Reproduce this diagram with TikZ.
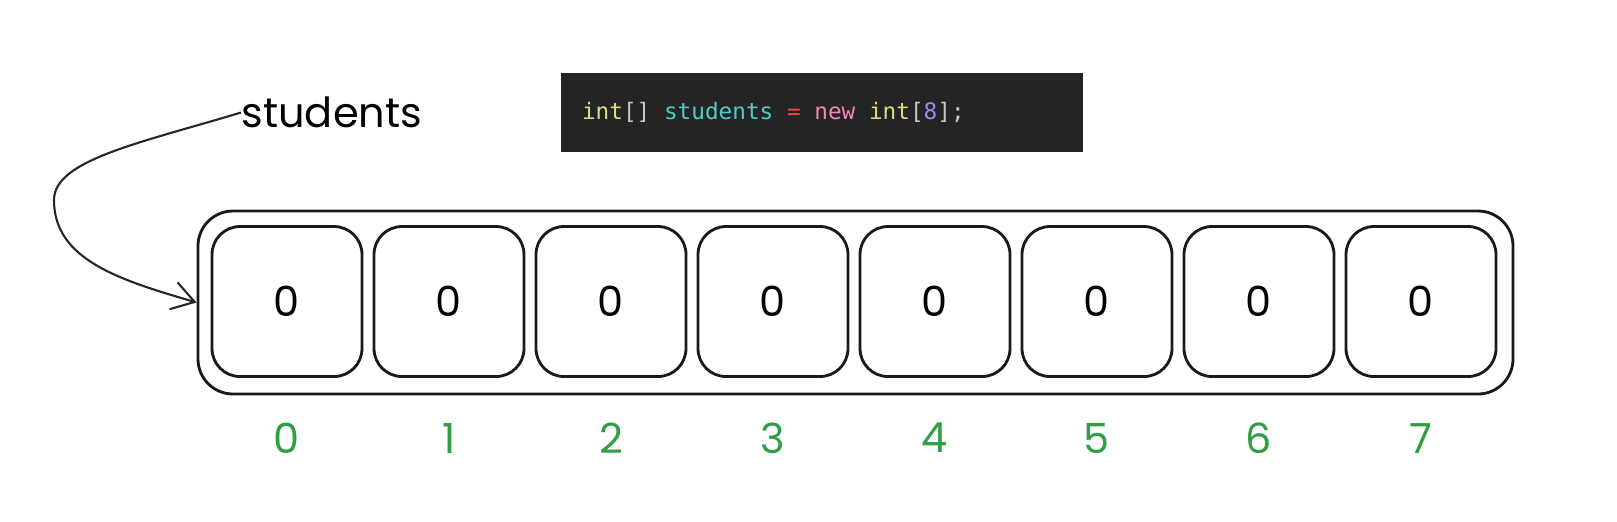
\documentclass[tikz,border=0pt]{standalone}
\usepackage{fontspec}
\usetikzlibrary{positioning, arrows.meta}
\newfontfamily\handfont{Poppins}
\newfontfamily\codefont{DejaVu Sans Mono}
\newcommand{\codesp}{\hspace*{0.602em}}
\definecolor{codebg}{RGB}{36,36,36}
\definecolor{idxgreen}{RGB}{47,158,68}
\definecolor{kwyellow}{RGB}{222,220,125}
\definecolor{varcyan}{RGB}{78,204,200}
\definecolor{opred}{RGB}{242,72,72}
\definecolor{newpink}{RGB}{242,132,190}
\definecolor{numpurple}{RGB}{165,132,240}
\definecolor{brgrey}{RGB}{200,200,200}

\begin{document}
\begin{tikzpicture}[
		hand/.style = {font=\handfont\fontsize{11.8}{14}\selectfont},
		cell/.style = {draw=black!90, line width=0.8pt, rounded corners=0.28cm, minimum width=1.5cm, minimum height=1.5cm, outer sep=0pt, hand},
		index/.style = {text=idxgreen, inner sep=0pt, hand}
		]
		\useasboundingbox (0,0) rectangle (16.17,-5.21);
		
		\node (code) [fill=codebg, minimum height=0.79cm, text width=4.80cm, inner xsep=0.21cm, align=left,
			font=\codefont\fontsize{6.46}{8}\selectfont] at (8.22,-1.125)
			{{\color{kwyellow}int}{\color{brgrey}[]}\codesp{\color{varcyan}students}\codesp{\color{opred}=}\codesp{\color{newpink}new}\codesp{\color{kwyellow}int}{\color{brgrey}[}{\color{numpurple}8}{\color{brgrey}];}};
		\node (students) [hand, inner sep=0pt, anchor=west] at (2.41,-1.125) {students};
		
		\node (array) [draw=black!90, line width=0.8pt, rounded corners=0.35cm, minimum width=13.15cm, minimum height=1.83cm] at (8.555,-3.025) {};
		\node (c0) [cell] at (2.87,-3.015) {0};
		\node (c1) [cell,right=0.12cm of c0] {0};
		\node (c2) [cell,right=0.12cm of c1] {0};
		\node (c3) [cell,right=0.12cm of c2] {0};
		\node (c4) [cell,right=0.12cm of c3] {0};
		\node (c5) [cell,right=0.12cm of c4] {0};
		\node (c6) [cell,right=0.12cm of c5] {0};
		\node (c7) [cell,right=0.12cm of c6] {0};
		
		\node (i0) [index,below=0.46cm of c0] {0};
		\node (i1) [index,below=0.46cm of c1] {1};
		\node (i2) [index,below=0.46cm of c2] {2};
		\node (i3) [index,below=0.46cm of c3] {3};
		\node (i4) [index,below=0.46cm of c4] {4};
		\node (i5) [index,below=0.46cm of c5] {5};
		\node (i6) [index,below=0.46cm of c6] {6};
		\node (i7) [index,below=0.46cm of c7] {7};
		
		\coordinate (bend) at (0.54,-2.00);
		\draw[line width=0.6pt, black!85, -{Straight Barb[length=0.22cm, width=0.28cm]}] (students.west)
			.. controls (1.40,-1.43) and (0.54,-1.60) .. (bend)
			.. controls (0.54,-2.60) and (1.20,-2.80) .. (array.west);
	\end{tikzpicture}
\end{document}
